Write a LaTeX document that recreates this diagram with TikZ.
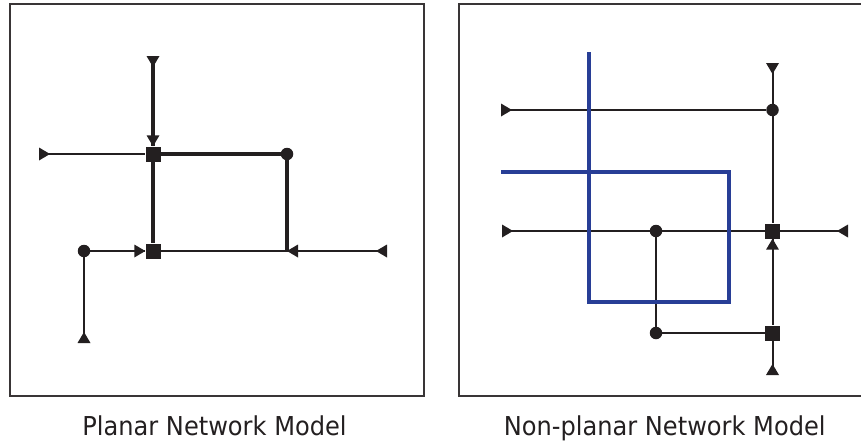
\documentclass[tikz,border=0pt]{standalone}
\usepackage{fontspec}
\setmainfont{DejaVu Sans}
\definecolor{ink}{RGB}{35,31,32}
\definecolor{netblue}{RGB}{40,62,150}
\tikzset{
  thinline/.style={draw=ink, line width=2pt},
  thickline/.style={draw=ink, line width=4pt},
  blueline/.style={draw=netblue, line width=3.3pt, line join=miter},
  frame/.style={draw=ink!90, line width=2pt},
  sqnode/.style={rectangle, fill=ink, minimum size=15pt, inner sep=0pt},
  dotnode/.style={circle, fill=ink, minimum size=12.5pt, inner sep=0pt},
  caption/.style={font=\fontsize{24.1}{29}\selectfont, text=ink, anchor=base, inner sep=0pt},
  triR/.pic={\fill[ink] (0,-6.5) -- (11,0) -- (0,6.5) -- cycle;},
  triL/.pic={\fill[ink] (0,-6.5) -- (-11,0) -- (0,6.5) -- cycle;},
  triD/.pic={\fill[ink] (-6.5,0) -- (0,11) -- (6.5,0) -- cycle;},
  triU/.pic={\fill[ink] (-6.5,0) -- (0,-11) -- (6.5,0) -- cycle;},
}
\begin{document}
\begin{tikzpicture}[x=1pt, y=-1pt]
\useasboundingbox (0,0) rectangle (861,442);
% frames
\draw[frame] (10,4) rectangle (424,395.5);
\draw[frame] (866,4) -- (459,4) -- (459,395.5) -- (866,395.5);

% ---------- left: planar ----------
\node[sqnode] (a1) at (153,154) {};
\node[sqnode] (a2) at (153,251) {};
\node[dotnode] (a3) at (287,154) {};
\node[dotnode] (a4) at (84,251) {};
\coordinate (a5) at (153,56);
\coordinate (a6) at (39,154);
\coordinate (a7) at (84,343);
\coordinate (a8) at (387,251);
\coordinate (a9) at (287,251);

\draw[thinline] (a6) -- (a1);
\draw[thinline] (a4) -- (a2);
\draw[thinline] (a4) -- (a7);
\draw[thinline] (a2) -- (a9) -- (a8);
\draw[thickline] (a5) -- (a1);
\draw[thickline] (a1) -- (a3);
\draw[thickline] (a1) -- (a2);
\draw[thickline] (a3) -- (a9);

\pic at (a5) {triD};
\pic at ([yshift=11pt]a1.north) {triD};
\pic at (a6) {triR};
\pic at ([xshift=-11pt]a2.west) {triR};
\pic at (a7) {triU};
\pic at ([xshift=11pt]a9) {triL};
\pic at (a8) {triL};
\node[sqnode] at (a1) {};
\node[sqnode] at (a2) {};

% ---------- right: non-planar ----------
\coordinate (p1) at (501,172);
\coordinate (p2) at (729,302);
\coordinate (p3) at (589,52);

\node[dotnode] (b1) at (772.5,110) {};
\node[sqnode] (b2) at (772.5,231) {};
\node[sqnode] (b3) at (772.5,333) {};
\node[dotnode] (b4) at (656,231) {};
\node[dotnode] (b5) at (656,333) {};
\coordinate (b6) at (501,110);
\coordinate (b7) at (502,231);
\coordinate (b8) at (772.5,63);
\coordinate (b9) at (772.5,375);
\coordinate (b10) at (848,231);

\draw[thinline] (b6) -- (b1);
\draw[thinline] (b8) -- (b1);
\draw[thinline] (b1) -- (b2);
\draw[thinline] (b2) -- (b3);
\draw[thinline] (b3) -- (b9);
\draw[thinline] (b7) -- (b4);
\draw[thinline] (b4) -- (b2);
\draw[thinline] (b2) -- (b10);
\draw[thinline] (b4) -- (b5);
\draw[thinline] (b5) -- (b3);

\draw[blueline] (p1) -| (p2) -| (p3);

\pic at (b6) {triR};
\pic at (b7) {triR};
\pic at (b8) {triD};
\pic at (b10) {triL};
\pic at ([yshift=-11pt]b2.south) {triU};
\pic at (b9) {triU};

% captions
\node[caption] (capL) at (214.5,435.5) {\scalebox{1}[1.08]{Planar Network Model}};
\node[caption] (capR) at (664.7,435.5) {\scalebox{1}[1.08]{Non-planar Network Model}};
\end{tikzpicture}
\end{document}
